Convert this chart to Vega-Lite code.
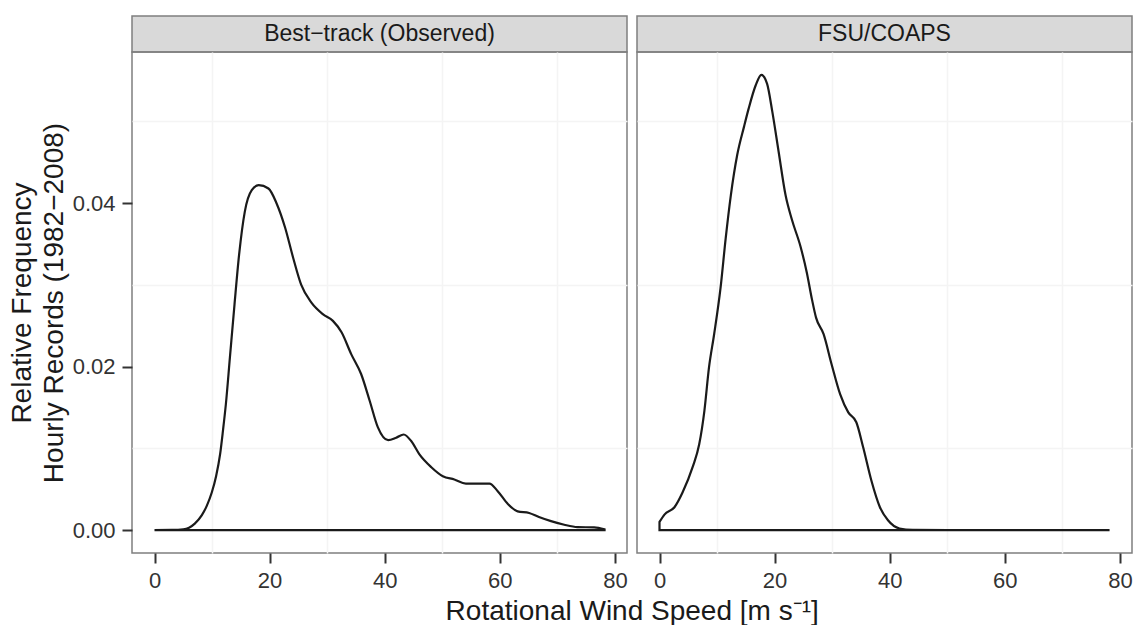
{
  "$schema": "https://vega.github.io/schema/vega-lite/v6.json",
  "padding": {"left": 7, "top": 15, "right": 0, "bottom": 5},
  "background": "white",
  "title": {"text": "Rotational Wind Speed [m s⁻¹]", "orient": "bottom", "anchor": "middle", "fontSize": 28, "fontWeight": "normal", "color": "#1a1a1a", "offset": 6, "dx": 62},
  "datasets": {
    "panels": [
      {"panel": "Best−track (Observed)"},
      {"panel": "FSU/COAPS"}
    ],
    "curves": [
      {"panel": "Best−track (Observed)", "speed": 0, "density": 0},
      {"panel": "Best−track (Observed)", "speed": 3, "density": 0.00002},
      {"panel": "Best−track (Observed)", "speed": 5, "density": 0.0001},
      {"panel": "Best−track (Observed)", "speed": 6, "density": 0.0003},
      {"panel": "Best−track (Observed)", "speed": 7, "density": 0.0008},
      {"panel": "Best−track (Observed)", "speed": 8.2, "density": 0.0018},
      {"panel": "Best−track (Observed)", "speed": 9.1, "density": 0.003},
      {"panel": "Best−track (Observed)", "speed": 9.95, "density": 0.0046},
      {"panel": "Best−track (Observed)", "speed": 10.7, "density": 0.0066},
      {"panel": "Best−track (Observed)", "speed": 11.4, "density": 0.0093},
      {"panel": "Best−track (Observed)", "speed": 11.9, "density": 0.0122},
      {"panel": "Best−track (Observed)", "speed": 12.4, "density": 0.0154},
      {"panel": "Best−track (Observed)", "speed": 13.1, "density": 0.0211},
      {"panel": "Best−track (Observed)", "speed": 13.9, "density": 0.0276},
      {"panel": "Best−track (Observed)", "speed": 14.7, "density": 0.0337},
      {"panel": "Best−track (Observed)", "speed": 15.7, "density": 0.039},
      {"panel": "Best−track (Observed)", "speed": 16.9, "density": 0.0416},
      {"panel": "Best−track (Observed)", "speed": 18.1, "density": 0.0422},
      {"panel": "Best−track (Observed)", "speed": 19.8, "density": 0.0418},
      {"panel": "Best−track (Observed)", "speed": 21.2, "density": 0.04},
      {"panel": "Best−track (Observed)", "speed": 22.7, "density": 0.037},
      {"panel": "Best−track (Observed)", "speed": 24.1, "density": 0.0333},
      {"panel": "Best−track (Observed)", "speed": 25.5, "density": 0.03},
      {"panel": "Best−track (Observed)", "speed": 27.3, "density": 0.0278},
      {"panel": "Best−track (Observed)", "speed": 29.3, "density": 0.0264},
      {"panel": "Best−track (Observed)", "speed": 31.0, "density": 0.0256},
      {"panel": "Best−track (Observed)", "speed": 32.5, "density": 0.0242},
      {"panel": "Best−track (Observed)", "speed": 34.2, "density": 0.0215},
      {"panel": "Best−track (Observed)", "speed": 35.9, "density": 0.0191},
      {"panel": "Best−track (Observed)", "speed": 37.4, "density": 0.0158},
      {"panel": "Best−track (Observed)", "speed": 38.8, "density": 0.0126},
      {"panel": "Best−track (Observed)", "speed": 40.6, "density": 0.011},
      {"panel": "Best−track (Observed)", "speed": 42.0, "density": 0.0113},
      {"panel": "Best−track (Observed)", "speed": 43.3, "density": 0.0117},
      {"panel": "Best−track (Observed)", "speed": 44.6, "density": 0.0109},
      {"panel": "Best−track (Observed)", "speed": 46.0, "density": 0.0093},
      {"panel": "Best−track (Observed)", "speed": 48.1, "density": 0.0077},
      {"panel": "Best−track (Observed)", "speed": 50.1, "density": 0.0066},
      {"panel": "Best−track (Observed)", "speed": 52.1, "density": 0.0062},
      {"panel": "Best−track (Observed)", "speed": 54.1, "density": 0.0057},
      {"panel": "Best−track (Observed)", "speed": 56.2, "density": 0.0057},
      {"panel": "Best−track (Observed)", "speed": 58.2, "density": 0.0057},
      {"panel": "Best−track (Observed)", "speed": 59.6, "density": 0.0048},
      {"panel": "Best−track (Observed)", "speed": 61.4, "density": 0.0032},
      {"panel": "Best−track (Observed)", "speed": 63.1, "density": 0.0023},
      {"panel": "Best−track (Observed)", "speed": 65.1, "density": 0.0021},
      {"panel": "Best−track (Observed)", "speed": 66.8, "density": 0.0016},
      {"panel": "Best−track (Observed)", "speed": 68.9, "density": 0.0011},
      {"panel": "Best−track (Observed)", "speed": 71.2, "density": 0.00066},
      {"panel": "Best−track (Observed)", "speed": 73.5, "density": 0.00037},
      {"panel": "Best−track (Observed)", "speed": 76.4, "density": 0.00033},
      {"panel": "Best−track (Observed)", "speed": 78.2, "density": 0.0001},
      {"panel": "FSU/COAPS", "speed": 0, "density": 0.001},
      {"panel": "FSU/COAPS", "speed": 0.86, "density": 0.0019},
      {"panel": "FSU/COAPS", "speed": 2.6, "density": 0.0028},
      {"panel": "FSU/COAPS", "speed": 4.0, "density": 0.0046},
      {"panel": "FSU/COAPS", "speed": 5.75, "density": 0.0077},
      {"panel": "FSU/COAPS", "speed": 6.9, "density": 0.0105},
      {"panel": "FSU/COAPS", "speed": 7.8, "density": 0.0146},
      {"panel": "FSU/COAPS", "speed": 8.6, "density": 0.0199},
      {"panel": "FSU/COAPS", "speed": 9.5, "density": 0.024},
      {"panel": "FSU/COAPS", "speed": 10.6, "density": 0.0296},
      {"panel": "FSU/COAPS", "speed": 11.5, "density": 0.0357},
      {"panel": "FSU/COAPS", "speed": 12.4, "density": 0.041},
      {"panel": "FSU/COAPS", "speed": 13.5, "density": 0.0459},
      {"panel": "FSU/COAPS", "speed": 14.7, "density": 0.0494},
      {"panel": "FSU/COAPS", "speed": 15.5, "density": 0.0516},
      {"panel": "FSU/COAPS", "speed": 16.7, "density": 0.0544},
      {"panel": "FSU/COAPS", "speed": 17.7, "density": 0.0557},
      {"panel": "FSU/COAPS", "speed": 18.7, "density": 0.0546},
      {"panel": "FSU/COAPS", "speed": 19.6, "density": 0.0512},
      {"panel": "FSU/COAPS", "speed": 20.7, "density": 0.0463},
      {"panel": "FSU/COAPS", "speed": 21.9, "density": 0.041},
      {"panel": "FSU/COAPS", "speed": 23.0, "density": 0.038},
      {"panel": "FSU/COAPS", "speed": 24.5, "density": 0.0347},
      {"panel": "FSU/COAPS", "speed": 25.6, "density": 0.0315},
      {"panel": "FSU/COAPS", "speed": 26.5, "density": 0.0282},
      {"panel": "FSU/COAPS", "speed": 27.2, "density": 0.026},
      {"panel": "FSU/COAPS", "speed": 28.5, "density": 0.024},
      {"panel": "FSU/COAPS", "speed": 29.9, "density": 0.0203},
      {"panel": "FSU/COAPS", "speed": 31.4, "density": 0.0166},
      {"panel": "FSU/COAPS", "speed": 32.8, "density": 0.0144},
      {"panel": "FSU/COAPS", "speed": 34.2, "density": 0.0132},
      {"panel": "FSU/COAPS", "speed": 35.4, "density": 0.0101},
      {"panel": "FSU/COAPS", "speed": 36.8, "density": 0.0061},
      {"panel": "FSU/COAPS", "speed": 38.3, "density": 0.0028},
      {"panel": "FSU/COAPS", "speed": 39.7, "density": 0.0012},
      {"panel": "FSU/COAPS", "speed": 41.7, "density": 0.0002},
      {"panel": "FSU/COAPS", "speed": 44, "density": 0.00003},
      {"panel": "FSU/COAPS", "speed": 50, "density": 0},
      {"panel": "FSU/COAPS", "speed": 78.2, "density": 0}
    ]
  },
  "config": {
    "font": "Liberation Sans",
    "view": {"stroke": "#7f7f7f", "strokeWidth": 1.5},
    "axis": {
      "domain": false,
      "grid": true,
      "gridColor": "#ebebeb",
      "gridWidth": 1.5,
      "tickColor": "#333333",
      "tickWidth": 2,
      "tickSize": 10,
      "labelFontSize": 22,
      "labelColor": "#333333",
      "labelPadding": 7,
      "titleFontSize": 28,
      "titleFontWeight": "normal",
      "titleColor": "#1a1a1a"
    }
  },
  "spacing": 8,
  "hconcat": [
    {
      "spacing": 0,
      "bounds": "flush",
      "vconcat": [
        {
          "data": {"name": "panels"},
          "transform": [{"filter": "datum.panel === 'Best−track (Observed)'"}],
          "width": 495,
          "height": 36,
          "view": {"fill": "#d9d9d9", "stroke": "#7f7f7f", "strokeWidth": 1.5},
          "mark": {"type": "text", "fontSize": 23, "color": "#1a1a1a", "baseline": "middle", "align": "center"},
          "encoding": {"text": {"field": "panel"}}
        },
        {
          "data": {"name": "curves"},
          "transform": [{"filter": "datum.panel === 'Best−track (Observed)'"}],
          "width": 495,
          "height": 501,
          "layer": [
            {
              "mark": {"type": "point", "opacity": 0},
              "encoding": {
                "x": {"field": "speed", "type": "quantitative", "scale": {"domain": [-3.91, 82.1], "nice": false, "zero": false},
                      "axis": {"orient": "top", "values": [10, 30, 50, 70], "grid": true, "gridColor": "#f4f4f4", "labels": false, "ticks": false, "domain": false, "title": null}},
                "y": {"field": "density", "type": "quantitative", "scale": {"domain": [-0.0028, 0.0585], "nice": false, "zero": false},
                      "axis": {"orient": "right", "values": [0.01, 0.03, 0.05], "grid": true, "gridColor": "#f4f4f4", "labels": false, "ticks": false, "domain": false, "title": null}}
              }
            },
            {
              "mark": {"type": "area", "interpolate": "monotone", "fill": "#1a1a1a", "fillOpacity": 0, "stroke": "#1a1a1a", "strokeWidth": 2.2},
              "encoding": {
                "x": {"field": "speed", "type": "quantitative",
                      "axis": {"orient": "bottom", "values": [0, 20, 40, 60, 80], "title": null}},
                "y": {"field": "density", "type": "quantitative", "stack": null,
                      "axis": {"orient": "left", "values": [0, 0.02, 0.04], "format": ".2f", "title": ["Relative Frequency", "Hourly Records (1982−2008)"], "titleLineHeight": 32, "titlePadding": 4}}
              }
            }
          ],
          "resolve": {"axis": {"x": "independent", "y": "independent"}}
        }
      ]
    },
    {
      "spacing": 0,
      "bounds": "flush",
      "vconcat": [
        {
          "data": {"name": "panels"},
          "transform": [{"filter": "datum.panel === 'FSU/COAPS'"}],
          "width": 495,
          "height": 36,
          "view": {"fill": "#d9d9d9", "stroke": "#7f7f7f", "strokeWidth": 1.5},
          "mark": {"type": "text", "fontSize": 23, "color": "#1a1a1a", "baseline": "middle", "align": "center"},
          "encoding": {"text": {"field": "panel"}}
        },
        {
          "data": {"name": "curves"},
          "transform": [{"filter": "datum.panel === 'FSU/COAPS'"}],
          "width": 495,
          "height": 501,
          "layer": [
            {
              "mark": {"type": "point", "opacity": 0},
              "encoding": {
                "x": {"field": "speed", "type": "quantitative", "scale": {"domain": [-3.91, 82.1], "nice": false, "zero": false},
                      "axis": {"orient": "top", "values": [10, 30, 50, 70], "grid": true, "gridColor": "#f4f4f4", "labels": false, "ticks": false, "domain": false, "title": null}},
                "y": {"field": "density", "type": "quantitative", "scale": {"domain": [-0.0028, 0.0585], "nice": false, "zero": false},
                      "axis": {"orient": "right", "values": [0.01, 0.03, 0.05], "grid": true, "gridColor": "#f4f4f4", "labels": false, "ticks": false, "domain": false, "title": null}}
              }
            },
            {
              "mark": {"type": "area", "interpolate": "monotone", "fill": "#1a1a1a", "fillOpacity": 0, "stroke": "#1a1a1a", "strokeWidth": 2.2},
              "encoding": {
                "x": {"field": "speed", "type": "quantitative",
                      "axis": {"orient": "bottom", "values": [0, 20, 40, 60, 80], "title": null}},
                "y": {"field": "density", "type": "quantitative", "stack": null,
                      "axis": {"orient": "left", "values": [0, 0.02, 0.04], "labels": false, "ticks": false, "title": null}}
              }
            }
          ],
          "resolve": {"axis": {"x": "independent", "y": "independent"}}
        }
      ]
    }
  ]
}
